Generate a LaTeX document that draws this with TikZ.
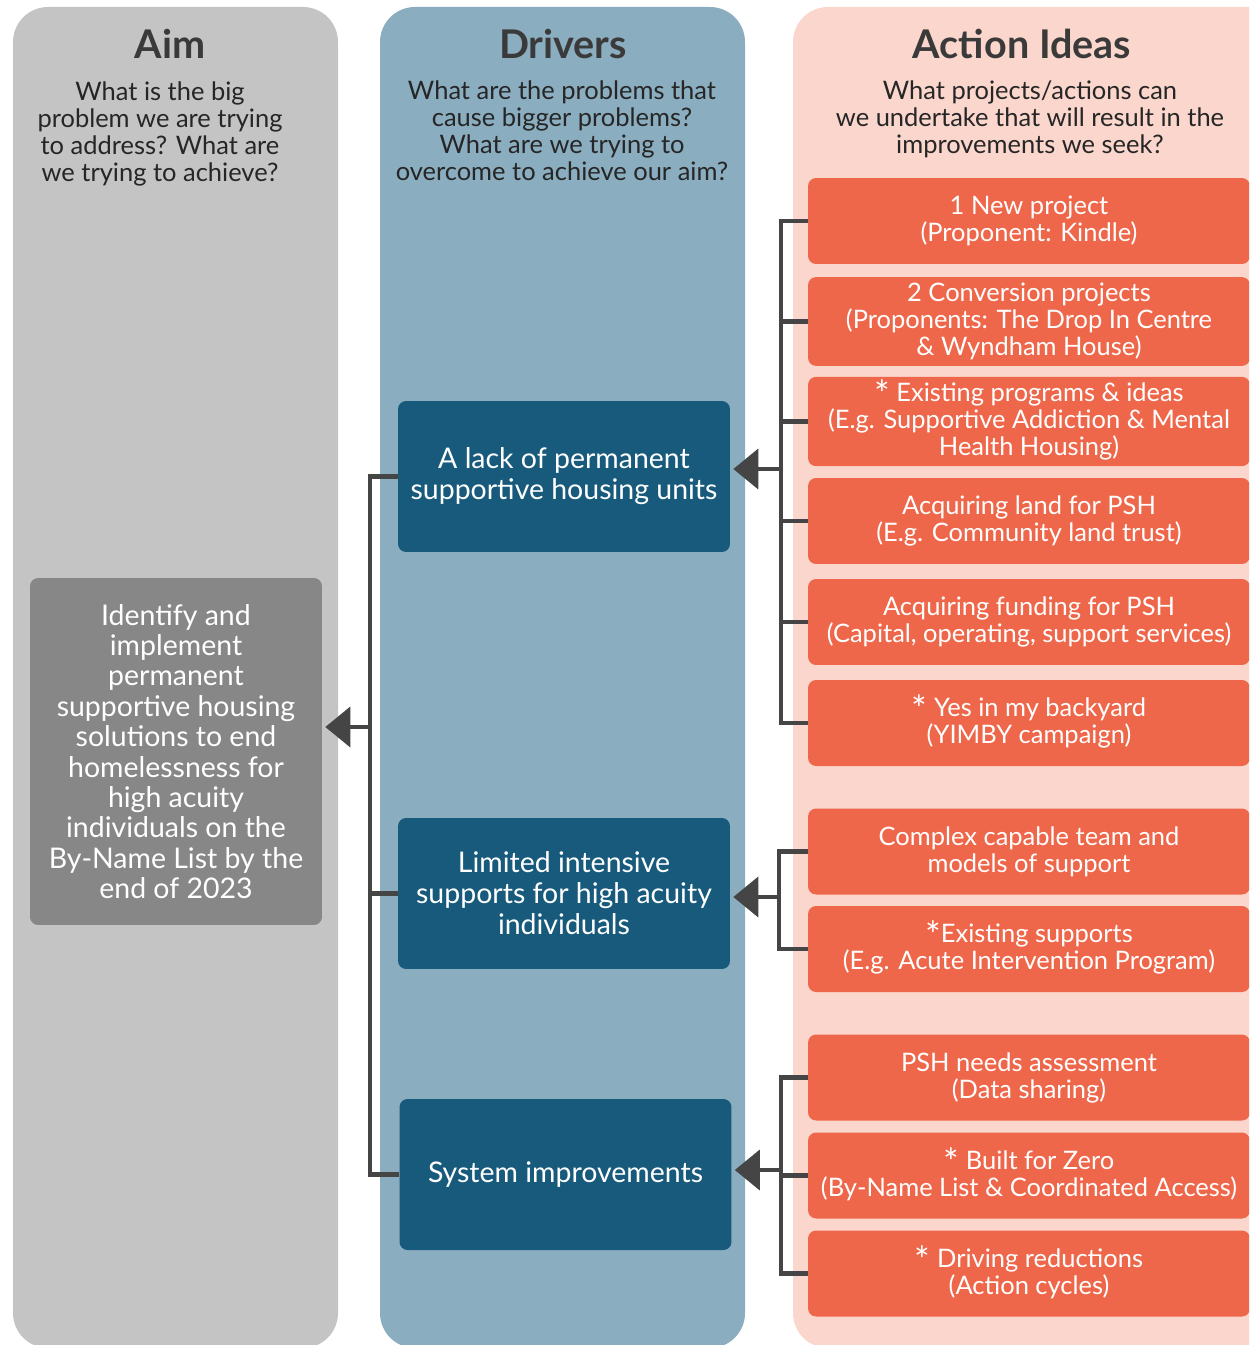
\documentclass[tikz,border=0pt]{standalone}
\usepackage{fontspec}
\setmainfont{Lato}
\usetikzlibrary{arrows.meta}
\definecolor{aimcol}{HTML}{C4C4C4}
\definecolor{aimdark}{HTML}{878787}
\definecolor{drvcol}{HTML}{8AADBF}
\definecolor{drvdark}{HTML}{175A7C}
\definecolor{actcol}{HTML}{FAD6CC}
\definecolor{actdark}{HTML}{EF674A}
\definecolor{linkgrey}{HTML}{454545}
\definecolor{titlegrey}{HTML}{3A3A3A}
\newcommand{\bigast}{\smash{\raisebox{-0.5ex}{\fontsize{21}{0}\selectfont*}}}
\begin{document}
\begin{tikzpicture}[x=0.02cm, y=-0.02cm,
    link/.style={draw=linkgrey, line width=2.3pt},
    feed/.style={link, -{Triangle[length=0.5cm,width=0.8cm]}, shorten >=0.06cm},
    coltitle/.style={text=titlegrey, font=\fontsize{22.5}{26}\selectfont\bfseries},
    question/.style={text=black!85, align=center, font=\fontsize{14.5}{15.4}\selectfont},
    aimbox/.style={fill=aimdark, rounded corners=0.16cm, text=white, align=center,
        minimum width=5.84cm, minimum height=6.94cm, font=\fontsize{16.2}{17.3}\selectfont},
    drvbox/.style={fill=drvdark, rounded corners=0.16cm, text=white, align=center,
        minimum width=6.64cm, minimum height=3.02cm, font=\fontsize{16.2}{17.7}\selectfont},
    actbox/.style={fill=actdark, rounded corners=0.16cm, text=white, align=center,
        minimum width=8.84cm, minimum height=1.72cm, font=\fontsize{14.5}{15.4}\selectfont}]
    \useasboundingbox (0,0) rectangle (1249,1345);
    \clip (0,0) rectangle (1249,1345);

    % Column backgrounds
    \fill[aimcol, rounded corners=0.7cm] (13,7) rectangle (338,1348);
    \fill[drvcol, rounded corners=0.7cm] (380,7) rectangle (745,1348);
    \fill[actcol, rounded corners=0.7cm] (793,7) rectangle (1290,1348);

    % Column headings
    \node[coltitle] (aimT) at (170,44) {Aim};
    \node[coltitle] (drvT) at (563,44) {Drivers};
    \node[coltitle] (actT) at (1022,44) {Action Ideas};
    \node[question] (aimQ) at (160,134) {What is the big\\problem we are trying\\to address? What are\\we trying to achieve?};
    \node[question] (drvQ) at (562,131) {What are the problems that\\cause bigger problems?\\What are we trying to\\overcome to achieve our aim?};
    \node[question] (actQ) at (1030,119) {What projects/actions can\\we undertake that will result in the\\improvements we seek?};

    % Aim
    \node[aimbox] (aim) at (176,751.5) {Identify and\\implement\\permanent\\supportive housing\\solutions to end\\homelessness for\\high acuity\\individuals on the\\By-Name List by the\\end of 2023};

    % Drivers
    \node[drvbox] (drv1) at (564,476.5) {A lack of permanent\\supportive housing units};
    \node[drvbox] (drv2) at (564,893.5) {Limited intensive\\supports for high acuity\\individuals};
    \node[drvbox] (drv3) at (565.5,1174.5) {System improvements};

    % Action ideas
    \node[actbox] (act1) at (1029,221) {1 New project\\(Proponent: Kindle)};
    \node[actbox] (act2) at (1029,321.5) {2 Conversion projects\\(Proponents: The Drop In Centre\\\& Wyndham House)};
    \node[actbox] (act3) at (1029,421.5) {\bigast\ Existing programs \& ideas\\(E.g. Supportive Addiction \& Mental\\Health Housing)};
    \node[actbox] (act4) at (1029,521) {Acquiring land for PSH\\(E.g. Community land trust)};
    \node[actbox] (act5) at (1029,622) {Acquiring funding for PSH\\(Capital, operating, support services)};
    \node[actbox] (act6) at (1029,723) {\bigast\ Yes in my backyard\\(YIMBY campaign)};
    \node[actbox] (act7) at (1029,851.5) {Complex capable team and\\models of support};
    \node[actbox] (act8) at (1029,949) {\bigast Existing supports\\(E.g. Acute Intervention Program)};
    \node[actbox] (act9) at (1029,1077.5) {PSH needs assessment\\(Data sharing)};
    \node[actbox] (act10) at (1029,1175.5) {\bigast\ Built for Zero\\(By-Name List \& Coordinated Access)};
    \node[actbox] (act11) at (1029,1273.5) {\bigast\ Driving reductions\\(Action cycles)};

    % Junctions
    \coordinate (bus1) at (781,469);
    \coordinate (bus2) at (779,897);
    \coordinate (bus3) at (781,1170);
    \coordinate (busL) at (370,727);

    % Action ideas -> drivers
    \foreach \a in {act1,act2,act3,act4,act5,act6}
        \draw[link] (\a.west) -| (bus1);
    \foreach \a in {act7,act8}
        \draw[link] (\a.west) -| (bus2);
    \foreach \a in {act9,act10,act11}
        \draw[link] (\a.west) -| (bus3);
    \draw[feed] (bus1) -- (bus1 -| drv1.east);
    \draw[feed] (bus2) -- (bus2 -| drv2.east);
    \draw[feed] (bus3) -- (bus3 -| drv3.east);

    % Drivers -> aim
    \foreach \d in {drv1,drv2,drv3}
        \draw[link] (\d.west) -| (busL);
    \draw[feed] (busL) -- (busL -| aim.east);
\end{tikzpicture}
\end{document}
